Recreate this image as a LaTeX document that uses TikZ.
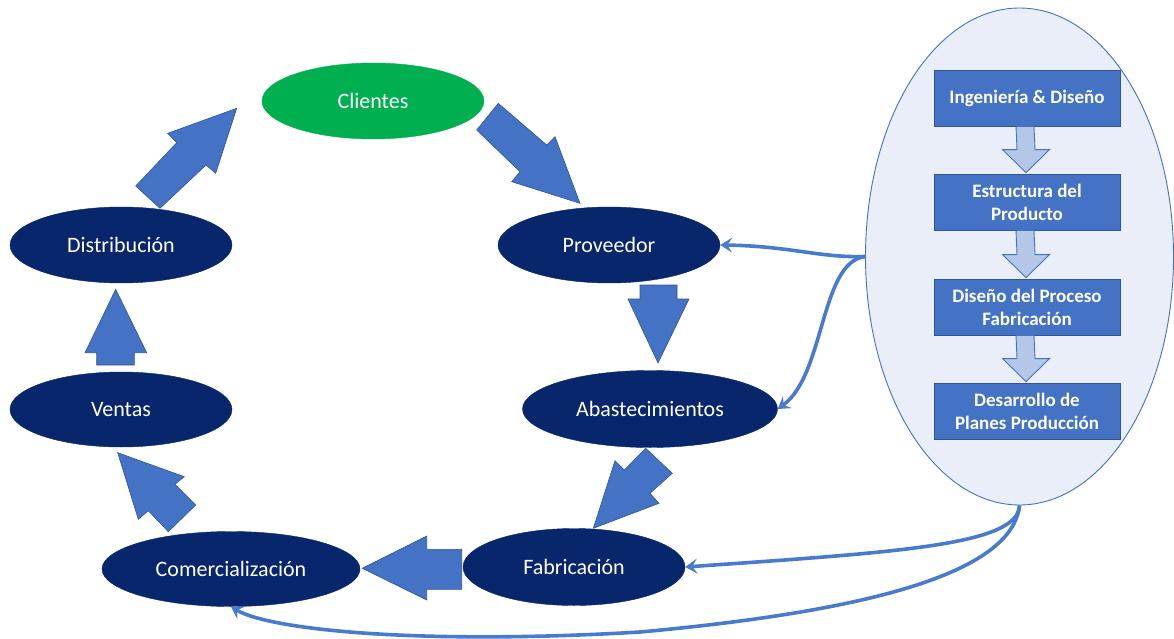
\documentclass[tikz,border=0pt]{standalone}
\usepackage{fontspec}
\setmainfont{Carlito}
\usetikzlibrary{shapes.geometric,arrows.meta,calc}
\definecolor{navy}{RGB}{8,38,108}
\definecolor{cgreen}{RGB}{0,176,80}
\definecolor{mblue}{RGB}{68,114,196}
\definecolor{lkblue}{RGB}{72,122,206}
\definecolor{dblue}{RGB}{47,85,151}
\definecolor{lblue}{RGB}{180,199,231}
\definecolor{pale}{RGB}{233,238,248}
\begin{document}
\begin{tikzpicture}[x=1pt,y=-1pt,
  oval/.style={ellipse, fill=navy, draw=navy, minimum width=222pt, minimum height=76pt, inner sep=0pt, text=white, font=\fontsize{22}{26}\selectfont},
  box/.style={rectangle, fill=mblue, draw=dblue, line width=0.8pt, minimum width=186pt, minimum height=56pt, text=white, align=center, font=\bfseries\fontsize{19}{23}\selectfont, inner sep=0pt},
  blk/.style={fill=mblue, draw=dblue, line width=0.6pt, line join=miter},
  sml/.style={fill=lblue, draw=mblue, line width=0.9pt},
  link/.style={draw=lkblue, line width=3.6pt, -{Stealth[length=12pt,width=15pt,inset=5pt]}},
]
\useasboundingbox (0,0) rectangle (1174,639);

% cycle nodes
\node[oval, fill=cgreen, draw=cgreen] (cli) at (373,101) {Clientes};
\node[oval] (dis) at (121,245) {Distribución};
\node[oval] (pro) at (609,245) {Proveedor};
\node[oval, minimum width=255pt, minimum height=77pt] (aba) at (650,409) {Abastecimientos};
\node[oval, minimum height=77pt] (fab) at (574,567) {Fabricación};
\node[oval, minimum height=75pt] (ven) at (121,409.5) {Ventas};
\node[oval, minimum width=258pt, minimum height=75pt] (com) at (231,569) {Comercialización};

% block arrows
\draw[blk] (135.7,186) -- (176.7,142.7) -- (167.7,133.3) -- (236.7,108.3) -- (215.7,173.3) -- (206,165) -- (160,208.3) -- cycle;
\draw[blk] (498.3,103.3) -- (546.7,145) -- (555,136.7) -- (580,203.3) -- (511.7,181.7) -- (520,171.7) -- (476.7,130) -- cycle;
\draw[blk] (640,285) -- (677,285) -- (677,299) -- (689,299) -- (658,363) -- (628,299) -- (640,299) -- cycle;
\draw[blk] (645.7,448.3) -- (672.3,473.3) -- (650,493.3) -- (659,503.3) -- (593.3,528.3) -- (615,460.7) -- (624.3,470) -- cycle;
\draw[blk] (461.7,549.3) -- (461.7,589.3) -- (426.7,589.3) -- (426.7,600) -- (362.3,568.3) -- (426.7,536) -- (426.7,549.3) -- cycle;
\draw[blk] (117.7,452.7) -- (184.3,476.7) -- (175,484.3) -- (195.7,505) -- (168.3,531.7) -- (148.3,510.7) -- (138.3,519.3) -- cycle;
\draw[blk] (115.7,289.3) -- (146.7,352.7) -- (134.3,352.7) -- (134.3,365) -- (96.7,365) -- (96.7,352.7) -- (85,352.7) -- cycle;

% big ellipse with process boxes
\node[ellipse, fill=pale, draw=mblue, line width=0.9pt, minimum width=308pt, minimum height=497pt, inner sep=0pt] (big) at (1019.5,256.5) {};
\node[box] (b1) at (1027,98) {Ingeniería \& Diseño};
\node[box] (b2) at (1027,202) {Estructura del\\Producto};
\node[box] (b3) at (1027,307) {Diseño del Proceso\\Fabricación};
\node[box] (b4) at (1027,411) {Desarrollo de\\Planes Producción};

\foreach \a/\b in {b1/b2,b2/b3,b3/b4}{
  \path ($(\a.south)+(-2,0)$) coordinate (s) ($(\b.north)+(-1,0)$) coordinate (t);
  \draw[sml] ($(s)+(-9,0)$) -- ($(s)+(9,0)$) -- ($(t)+(9,-24)$) -- ($(t)+(23.5,-24)$) -- ($(t)+(0,-1)$) -- ($(t)+(-23.5,-24)$) -- ($(t)+(-9,-24)$) -- cycle;
}

% links
\draw[link] (big.west) .. controls (820,258) and (790,246) .. (pro.east);
\draw[link] (big.west) .. controls (820,262) and (825,375) .. (aba.east);
\draw[link] (big.south) .. controls (1018,545) and (900,552) .. (fab.east);
\draw[link] (big.south) .. controls (1012,575) and (860,612) .. (640,632) .. controls (420,645) and (270,630) .. (com.south);
\end{tikzpicture}
\end{document}
